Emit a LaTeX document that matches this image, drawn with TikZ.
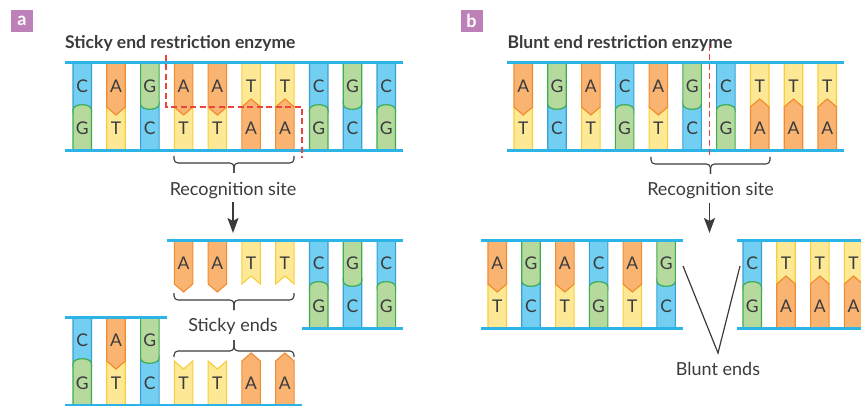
\documentclass[tikz,border=0pt]{standalone}
\usepackage{fontspec}
\setmainfont{Lato}
\usetikzlibrary{arrows.meta}

\definecolor{bbone}{HTML}{2DB4E6}
\definecolor{cfill}{HTML}{72CFF1}
\definecolor{cline}{HTML}{3A9FD6}
\definecolor{gfill}{HTML}{B6D99E}
\definecolor{gline}{HTML}{3DAE4B}
\definecolor{afill}{HTML}{FAB472}
\definecolor{aline}{HTML}{F18B30}
\definecolor{tfill}{HTML}{FDE995}
\definecolor{tline}{HTML}{F9CD3A}
\definecolor{ink}{HTML}{3B3B3D}
\definecolor{tag}{HTML}{BE80B8}
\definecolor{cut}{HTML}{E8453C}

\tikzset{
  abase/.style={fill=afill,draw=aline,line width=1.1pt,line join=miter},
  tbase/.style={fill=tfill,draw=tline,line width=1.1pt,line join=miter},
  gbase/.style={fill=gfill,draw=gline,line width=1.1pt},
  cbase/.style={fill=cfill,draw=cline,line width=1.1pt},
  nuc/.style={inner sep=0pt,anchor=base,text=ink,font=\fontsize{17.5}{18}\selectfont},
  backbone/.style={draw=bbone,line width=3pt},
  caption/.style={inner sep=0pt,anchor=base,text=ink,font=\fontsize{18}{20}\selectfont},
  heading/.style={inner sep=0pt,anchor=base west,text=ink,font=\bfseries\fontsize{17.5}{20}\selectfont},
  tagbox/.style={fill=tag,minimum size=22pt,inner sep=0pt,text=white,font=\bfseries\fontsize{18}{18}\selectfont},
  bracket/.style={draw=ink,line width=1.1pt,rounded corners=4pt},
  pointer/.style={draw=ink,line width=1.8pt,-{Stealth[length=15pt,width=11pt,inset=3pt]}},
  cutmark/.style={draw=cut,line width=1.3pt,dash pattern=on 6pt off 3.5pt},
  vline/.style={draw=ink,line width=1.2pt},
}

% bar width and half width
\newcommand\bw{18.5}
\newcommand\hw{9.25}

% top halves: #1 name, #2 left x, #3 top y of the strand
\newcommand\ntA[3]{%
  \path[abase] (#2,#3) -- ({#2+\bw},#3) -- ({#2+\bw},{#3+44}) -- ({#2+\hw},{#3+52}) -- (#2,{#3+44}) -- cycle;
  \node[nuc] (#1-t) at ({#2+\hw},{#3+29.5}) {A};}
\newcommand\ntT[3]{%
  \path[tbase] (#2,#3) -- ({#2+\bw},#3) -- ({#2+\bw},{#3+44}) -- ({#2+\hw},{#3+36}) -- (#2,{#3+44}) -- cycle;
  \node[nuc] (#1-t) at ({#2+\hw},{#3+29.5}) {T};}
\newcommand\ntG[3]{%
  \path[gbase] (#2,#3) -- ({#2+\bw},#3) -- ({#2+\bw},{#3+41}) .. controls ({#2+\bw},{#3+48}) and (#2,{#3+48}) .. (#2,{#3+41}) -- cycle;
  \node[nuc] (#1-t) at ({#2+\hw},{#3+29.5}) {G};}
\newcommand\ntC[3]{%
  \path[cbase] (#2,#3) -- ({#2+\bw},#3) -- ({#2+\bw},{#3+47}) .. controls ({#2+\bw},{#3+40}) and (#2,{#3+40}) .. (#2,{#3+47}) -- cycle;
  \node[nuc] (#1-t) at ({#2+\hw},{#3+29.5}) {C};}
% bottom halves
\newcommand\nbA[3]{%
  \path[abase] (#2,{#3+44}) -- ({#2+\hw},{#3+36}) -- ({#2+\bw},{#3+44}) -- ({#2+\bw},{#3+88}) -- (#2,{#3+88}) -- cycle;
  \node[nuc] (#1-b) at ({#2+\hw},{#3+72}) {A};}
\newcommand\nbT[3]{%
  \path[tbase] (#2,{#3+44}) -- ({#2+\hw},{#3+52}) -- ({#2+\bw},{#3+44}) -- ({#2+\bw},{#3+88}) -- (#2,{#3+88}) -- cycle;
  \node[nuc] (#1-b) at ({#2+\hw},{#3+72}) {T};}
\newcommand\nbG[3]{%
  \path[gbase] (#2,{#3+47}) .. controls (#2,{#3+40}) and ({#2+\bw},{#3+40}) .. ({#2+\bw},{#3+47}) -- ({#2+\bw},{#3+88}) -- (#2,{#3+88}) -- cycle;
  \node[nuc] (#1-b) at ({#2+\hw},{#3+72}) {G};}
\newcommand\nbC[3]{%
  \path[cbase] (#2,{#3+41}) .. controls (#2,{#3+48}) and ({#2+\bw},{#3+48}) .. ({#2+\bw},{#3+41}) -- ({#2+\bw},{#3+88}) -- (#2,{#3+88}) -- cycle;
  \node[nuc] (#1-b) at ({#2+\hw},{#3+72}) {C};}
% complete base pairs (top/bottom)
\newcommand\pairAT[3]{\nbT{#1}{#2}{#3}\ntA{#1}{#2}{#3}}
\newcommand\pairTA[3]{\ntT{#1}{#2}{#3}\nbA{#1}{#2}{#3}}
\newcommand\pairCG[3]{\ntC{#1}{#2}{#3}\nbG{#1}{#2}{#3}}
\newcommand\pairGC[3]{\nbC{#1}{#2}{#3}\ntG{#1}{#2}{#3}}
% row of pieces: #1 name, #2 first x, #3 top y, #4 list of macro suffixes
\newcommand\basesrow[4]{%
  \foreach \p [count=\k from 0] in {#4} {%
    \pgfmathsetmacro\xx{#2+33.78*\k}%
    \csname \p\endcsname{#1-\k}{\xx}{#3}%
  }}
% curly brackets: #1 left x, #2 right x, #3 y of the ends
\newcommand\bracedown[3]{%
  \pgfmathsetmacro\brmid{(#1+#2)/2}%
  \draw[bracket] (#1,#3) -- (#1,{#3+7}) -- (\brmid,{#3+7}) -- (\brmid,{#3+17});
  \draw[bracket] (#2,#3) -- (#2,{#3+7}) -- (\brmid,{#3+7}) -- (\brmid,{#3+17});}
\newcommand\braceup[3]{%
  \pgfmathsetmacro\brmid{(#1+#2)/2}%
  \draw[bracket] (#1,#3) -- (#1,{#3-6}) -- (\brmid,{#3-6}) -- (\brmid,{#3-17});
  \draw[bracket] (#2,#3) -- (#2,{#3-6}) -- (\brmid,{#3-6}) -- (\brmid,{#3-17});}

\begin{document}
\begin{tikzpicture}[x=1pt,y=-1pt]
\useasboundingbox (0,0) rectangle (861,406);
\clip (0,0) rectangle (861,406);

% ---------- panel a: sticky end restriction enzyme ----------
\node[tagbox] (taga) at (22,21) {a};
\node[heading] (titlea) at (65,49) {Sticky end restriction enzyme};

\basesrow{sa}{73}{63}{pairCG,pairAT,pairGC,pairAT,pairAT,pairTA,pairTA,pairCG,pairGC,pairCG}
\draw[backbone] (65,63) -- (403,63);
\draw[backbone] (65,151) -- (403,151);

\coordinate (cuta1) at (166,55);
\coordinate (cuta2) at (166,107);
\coordinate (cuta3) at (302,107);
\coordinate (cuta4) at (302,158);
\draw[cutmark] (cuta1) -- (cuta2) -- (cuta3) -- (cuta4);

\bracedown{174}{294}{156}
\node[caption] (reca) at (233,195) {Recognition site};
\coordinate (arra1) at (233,202);
\coordinate (arra2) at (233,233);
\draw[pointer] (arra1) -- (arra2);

% right fragment with the AATT overhang
\basesrow{ra}{174.3}{240}{ntA,ntA,ntT,ntT}
\basesrow{rb}{309.5}{240}{pairCG,pairGC,pairCG}
\draw[backbone] (167,240) -- (403,240);
\draw[backbone] (302,328) -- (403,328);

\bracedown{174}{294}{293}
\node[caption] (sticky) at (233,331) {Sticky ends};
\braceup{174}{294}{357}

% left fragment with the TTAA overhang
\basesrow{la}{73}{317}{pairCG,pairAT,pairGC}
\basesrow{lb}{174.3}{317}{nbT,nbT,nbA,nbA}
\draw[backbone] (65,317) -- (167,317);
\draw[backbone] (65,405) -- (302,405);

% ---------- panel b: blunt end restriction enzyme ----------
\node[tagbox] (tagb) at (471.5,21) {b};
\node[heading] (titleb) at (507.5,49) {Blunt end restriction enzyme};

\basesrow{sb}{514}{63}{pairAT,pairGC,pairAT,pairCG,pairAT,pairGC,pairCG,pairTA,pairTA,pairTA}
\draw[backbone] (507,63) -- (844,63);
\draw[backbone] (507,151) -- (844,151);

\coordinate (cutb1) at (709.5,45);
\coordinate (cutb2) at (709.5,158);
\draw[cutmark] (cutb1) -- (cutb2);

\bracedown{651}{770}{157}
\node[caption] (recb) at (710.5,195) {Recognition site};
\coordinate (arrb1) at (709.5,203);
\coordinate (arrb2) at (709.5,233);
\draw[pointer] (arrb1) -- (arrb2);

% the two blunt fragments
\basesrow{bl}{488}{240}{pairAT,pairGC,pairAT,pairCG,pairAT,pairGC}
\draw[backbone] (481,240) -- (683,240);
\draw[backbone] (481,328) -- (683,328);
\basesrow{br}{743}{240}{pairCG,pairTA,pairTA,pairTA}
\draw[backbone] (737,240) -- (866,240);
\draw[backbone] (737,328) -- (866,328);

\coordinate (vl) at (683,266);
\coordinate (vr) at (740,266);
\coordinate (vtip) at (718,353);
\draw[vline] (vl) -- (vtip) -- (vr);
\node[caption] (blunt) at (718,375) {Blunt ends};
\end{tikzpicture}
\end{document}
